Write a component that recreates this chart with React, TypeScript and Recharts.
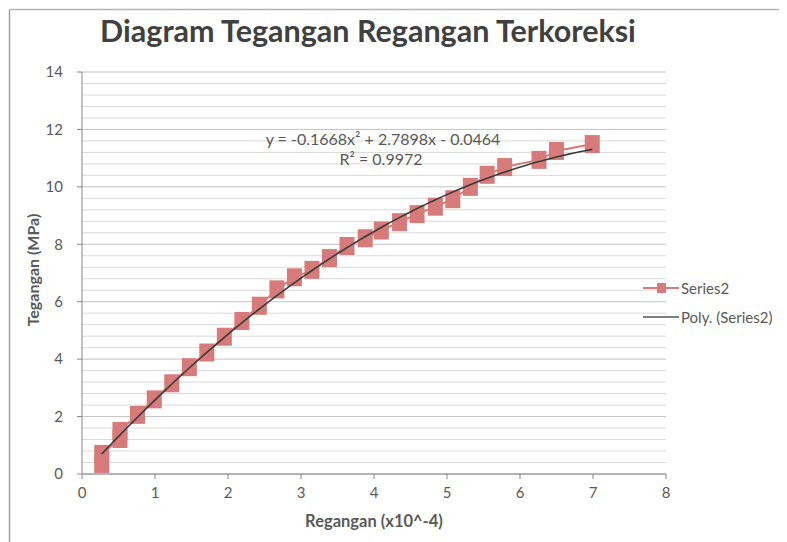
import React from "react";
import {
  ComposedChart,
  Scatter,
  XAxis,
  YAxis,
  CartesianGrid,
  ReferenceLine,
} from "recharts";

// Regangan (x10^-4) and Tegangan (MPa) measurements
const strain = [
  0.27, 0.27, 0.52, 0.52, 0.76, 0.99, 1.23, 1.47, 1.71, 1.95, 2.19, 2.43, 2.67,
  2.91, 3.15, 3.39, 3.63, 3.88, 4.1, 4.35, 4.59, 4.84, 5.08, 5.32, 5.55, 5.79,
  6.26, 6.5, 6.99,
];
const stress = [
  0.35, 0.7, 1.22, 1.5, 2.06, 2.6, 3.16, 3.72, 4.23, 4.78, 5.33, 5.86, 6.43,
  6.85, 7.11, 7.52, 7.94, 8.21, 8.48, 8.77, 9.05, 9.31, 9.57, 10.0, 10.42,
  10.69, 10.94, 11.25, 11.49,
];

// Polynomial trendline: y = a x^2 + b x + c
const trendA = -0.1668;
const trendB = 2.7898;
const trendC = -0.0464;
const trendEquation = "y = -0.1668x² + 2.7898x - 0.0464";
const trendR2 = "R² = 0.9972";

const xTicks = [0, 1, 2, 3, 4, 5, 6, 7, 8];
const yTicks = [0, 2, 4, 6, 8, 10, 12, 14];

const title = "Diagram Tegangan Regangan Terkoreksi";
const xTitle = "Regangan (x10^-4)";
const yTitle = "Tegangan (MPa)";
const seriesName = "Series2";
const trendName = "Poly. (Series2)";

const points = strain.map((x, i) => ({ x, y: stress[i] }));

const xMin = Math.min(...strain);
const xMax = Math.max(...strain);
const trendPoints = Array.from({ length: 81 }, (_, i) => {
  const x = xMin + ((xMax - xMin) * i) / 80;
  return { x, y: trendA * x * x + trendB * x + trendC };
});

// minor horizontal gridlines every 0.4 between the major ticks
const minorLines: number[] = [];
for (let k = 1; k < 35; k++) {
  if (k % 5 !== 0) minorLines.push(Math.round(k * 0.4 * 10) / 10);
}

const W = 779;
const H = 534;
const FONT = "Lato, 'Open Sans', sans-serif";
const TEXT = "#595959";
const RED = "#D67B7A";

const SquareMarker = (props: any) => {
  const { cx, cy } = props;
  if (cx == null || cy == null) return <g />;
  return <rect x={cx - 7.5} y={cy - 9} width={15} height={18} fill={RED} />;
};

const NoMarker = () => <g />;

export default function App() {
  return (
    <div style={{ position: "relative", width: W, height: H, background: "#fff" }}>
      <ComposedChart
        width={W}
        height={H}
        margin={{ top: 64, right: 121, bottom: 28, left: 0 }}
      >
        <CartesianGrid horizontal vertical={false} stroke="#c4c4c4" strokeWidth={1} />
        {minorLines.map((v) => (
          <ReferenceLine key={v} y={v} stroke="#d9d9d9" strokeWidth={1} />
        ))}
        <XAxis
          type="number"
          dataKey="x"
          domain={[0, 8]}
          ticks={xTicks}
          interval={0}
          height={40}
          tickSize={5}
          tickMargin={8}
          stroke="#868686"
          tick={{ fill: TEXT, fontSize: 15, fontFamily: FONT }}
          allowDataOverflow
        />
        <YAxis
          type="number"
          dataKey="y"
          domain={[0, 14]}
          ticks={yTicks}
          interval={0}
          width={74}
          tickSize={5}
          tickMargin={14}
          stroke="#868686"
          tick={{ fill: TEXT, fontSize: 15, fontFamily: FONT }}
          allowDataOverflow
        />
        <Scatter
          name={seriesName}
          data={points}
          line={{ stroke: RED, strokeWidth: 2 }}
          lineType="joint"
          shape={<SquareMarker />}
          isAnimationActive={false}
        />
        <Scatter
          name={trendName}
          data={trendPoints}
          line={{ stroke: "#3a3a3a", strokeWidth: 1.6 }}
          lineType="joint"
          shape={<NoMarker />}
          isAnimationActive={false}
        />
      </ComposedChart>
      <svg
        width={W}
        height={H}
        style={{ position: "absolute", left: 0, top: 0, pointerEvents: "none" }}
        fontFamily={FONT}
      >
        <line x1={1.5} y1={1.5} x2={W} y2={1.5} stroke="#b5b5b5" strokeWidth={1.5} />
        <line x1={1.5} y1={1.5} x2={1.5} y2={H} stroke="#a0a0a0" strokeWidth={1.5} />
        <text x={360} y={34} textAnchor="middle" fontSize={30.5} fontWeight={700} fill="#404040">
          {title}
        </text>
        <text x={375} y={137} textAnchor="middle" fontSize={16} fill={TEXT}>
          {trendEquation}
        </text>
        <text x={373} y={157} textAnchor="middle" fontSize={16} fill={TEXT}>
          {trendR2}
        </text>
        <text
          x={24}
          y={262}
          textAnchor="middle"
          dominantBaseline="central"
          transform="rotate(-90 24 262)"
          fontSize={16}
          fontWeight={700}
          fill={TEXT}
        >
          {yTitle}
        </text>
        <text
          x={366}
          y={513}
          textAnchor="middle"
          dominantBaseline="central"
          fontSize={16.5}
          fontWeight={700}
          fill={TEXT}
        >
          {xTitle}
        </text>
        <line x1={635} y1={280} x2={671} y2={280} stroke={RED} strokeWidth={2} />
        <rect x={649} y={275} width={9} height={10} fill={RED} />
        <text x={673} y={280} dominantBaseline="central" fontSize={15} fill={TEXT}>
          {seriesName}
        </text>
        <line x1={635} y1={309} x2={671} y2={309} stroke="#555" strokeWidth={1.6} />
        <text x={673} y={309} dominantBaseline="central" fontSize={15} fill={TEXT}>
          {trendName}
        </text>
      </svg>
    </div>
  );
}
